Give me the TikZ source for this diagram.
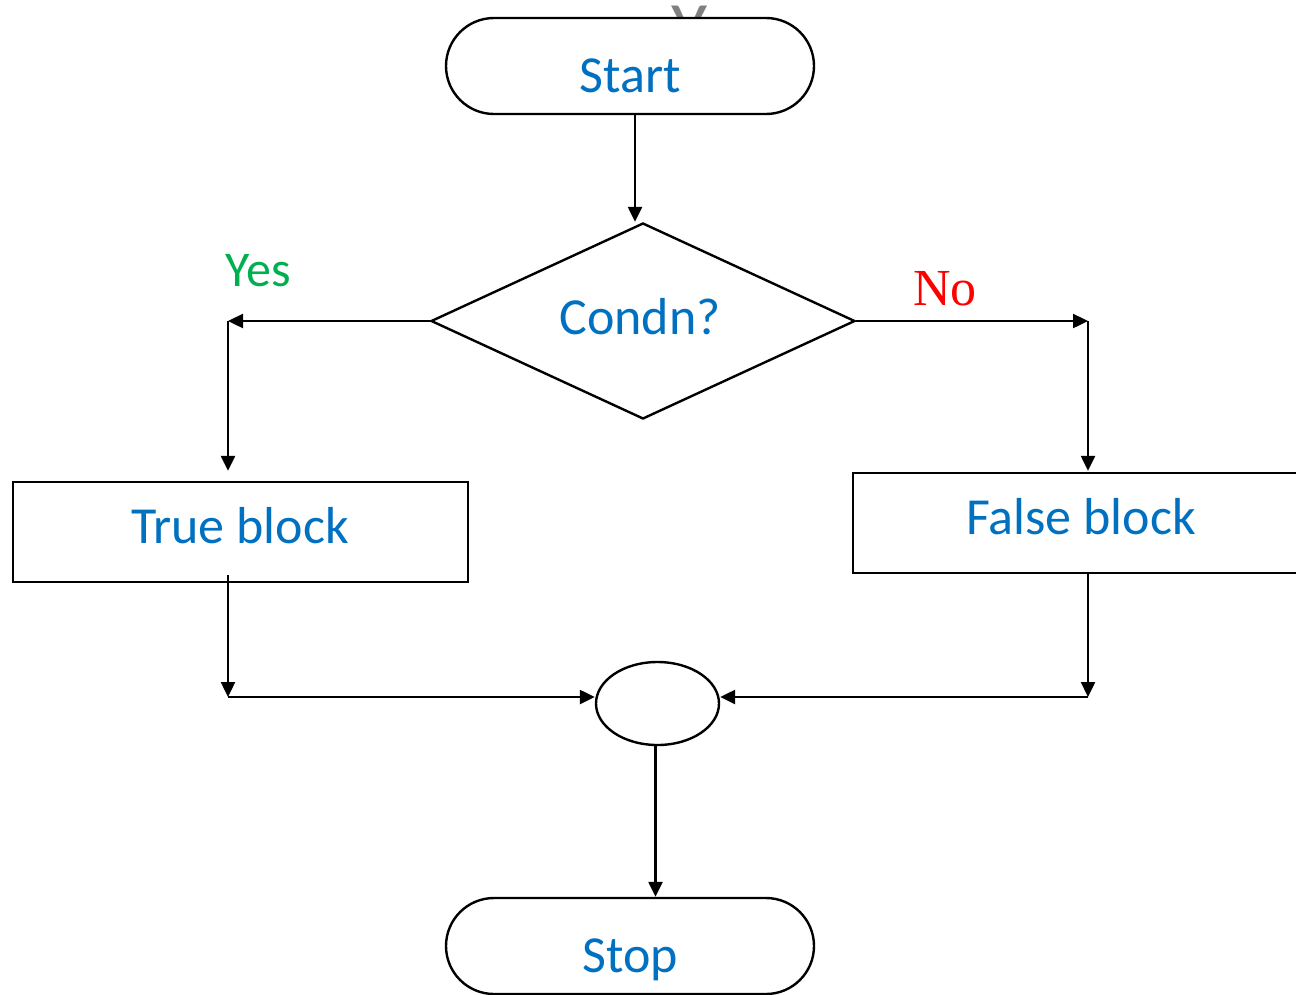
\documentclass[tikz,border=0pt]{standalone}
\usepackage{fontspec}
\setmainfont{Carlito}
\newfontfamily\timesf{Liberation Serif}
\usetikzlibrary{arrows.meta,shapes.misc,shapes.geometric,calc}
\definecolor{txtblue}{HTML}{0070C0}
\definecolor{yesgreen}{HTML}{00B050}
\definecolor{nored}{HTML}{FF0000}
\begin{document}
\begin{tikzpicture}[x=1pt,y=-1pt,line width=2.4pt,
  term/.style={draw,rounded rectangle,minimum width=368pt,minimum height=96pt,inner sep=0pt,fill=white},
  decide/.style={draw,diamond,minimum width=424pt,minimum height=196pt,inner sep=0pt},
  blk/.style={draw,rectangle,minimum width=455pt,minimum height=100pt,inner sep=0pt},
  conn/.style={draw,ellipse,minimum width=123pt,minimum height=83pt,inner sep=0pt},
  lbl/.style={text=txtblue,font=\fontsize{52}{60}\selectfont,anchor=base,inner sep=0pt},
  arr/.style={-{Triangle[length=15pt,width=14pt]}}]
\useasboundingbox (0,0) rectangle (1296,994);
\clip (0,0) rectangle (1296,994);
% partly hidden grey letter behind Start
\node[text=gray,font=\fontsize{74}{80}\selectfont,anchor=base,inner sep=0pt] (gy) at (690,53) {Y};
% shapes
\node[term] (s) at (630,66) {};
\node[decide] (d) at (643,321) {};
\node[blk] (t) at (240.5,532) {};
\node[blk,minimum width=460pt] (f) at (1083,523) {};
\node[conn] (c) at (657.5,703.5) {};
\node[term] (o) at (630,946) {};
% texts
\node[lbl] (st) at (630,92) {Start};
\node[lbl] (dt) at (640,334) {Condn?};
\node[lbl] (tt) at (240,543) {True block};
\node[lbl] (ft) at (1081,534) {False block};
\node[lbl] (ot) at (630,972) {Stop};
\node[text=yesgreen,font=\fontsize{50}{58}\selectfont,anchor=base,inner sep=0pt] (yes) at (258,286) {Yes};
\node[text=nored,font=\fontsize{52}{60}\timesf,anchor=base,inner sep=0pt] (no) at (945,305) {No};
% corner points
\coordinate (sa) at ([xshift=5pt]s.south);
\coordinate (yc) at (228,321);
\coordinate (nc) at (1088,321);
\coordinate (jl) at (228,697);
\coordinate (jr) at (1088,697);
\coordinate (ca) at ([xshift=-2pt]c.south);
% connectors
\draw[arr] (sa) -- (sa |- d.north);
\draw[arr] (d.west) -- (yc);
\draw[arr,shorten >=10pt] (yc) -- (yc |- t.north);
\draw[arr] (d.east) -- (nc);
\draw[arr,shorten >=1pt] (nc) -- (nc |- f.north);
\draw[arr] ($(t.south -| jl)+(0,-8)$) -- (jl);
\draw[arr] (jl) -- (jl -| c.west);
\draw[arr] (f.south -| jr) -- (jr);
\draw[arr] (jr) -- (jr -| c.east);
\draw[arr] (ca) -- (ca |- o.north);
\end{tikzpicture}
\end{document}
